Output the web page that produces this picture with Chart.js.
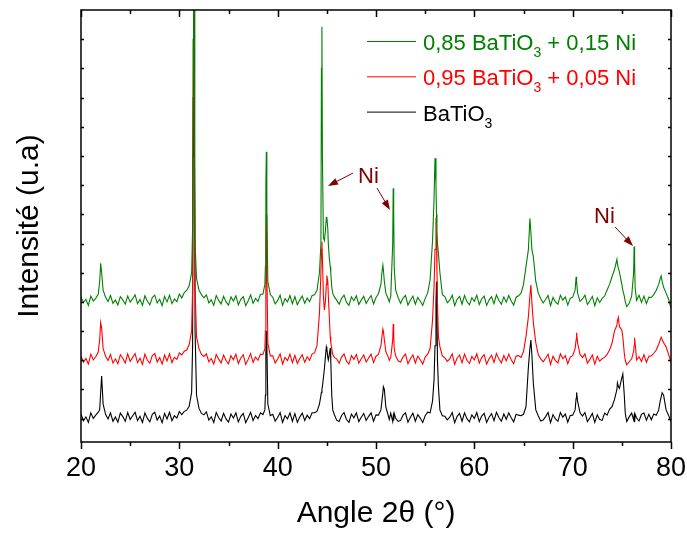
<!DOCTYPE html>
<html><head><meta charset="utf-8">
<script src="https://cdn.jsdelivr.net/npm/chart.js@4.4.1/dist/chart.umd.min.js"></script>
<style>html,body{margin:0;padding:0;background:#fff;}canvas{display:block;}</style>
</head><body>
<canvas id="c" width="687" height="534"></canvas>
<script>
// 2-theta positions (degrees), shared by the three patterns
const angles = [
 20,20.25,20.5,20.75,21,21.25,21.5,21.75,
 21.9,22,22.1,22.25,22.5,
 22.75,23,23.25,23.5,23.75,24,24.25,24.5,24.75,25,25.25,25.5,
 25.75,26,26.25,26.5,26.75,27,27.25,27.5,27.75,28,28.25,28.5,
 28.75,29,29.25,29.5,29.75,30,30.25,30.5,30.75,31,31.25,
 31.35,31.4,31.45,31.5,31.55,31.6,31.75,32,32.25,
 32.5,32.75,33,33.25,33.5,33.75,34,34.25,34.5,34.75,35,35.25,
 35.5,35.75,36,36.25,36.5,36.75,37,37.25,37.5,37.75,38,38.25,38.5,
 38.7,38.75,38.8,38.85,38.9,39,39.25,
 39.5,39.75,40,40.25,40.5,40.75,41,41.25,41.5,41.75,42,42.25,
 42.5,42.75,43,43.25,43.5,43.75,
 44,44.25,44.4,44.45,44.5,44.55,44.65,44.75,44.85,44.95,45,45.1,45.15,45.25,45.35,45.4,45.5,45.6,45.75,46,
 46.25,46.5,46.75,47,47.25,47.5,47.75,48,48.25,48.5,48.75,49,
 49.25,49.5,49.75,50,50.25,
 50.5,50.6,50.7,50.75,50.85,51,51.25,51.35,51.5,51.7,51.75,51.8,51.85,52,52.25,
 52.5,52.75,53,53.25,53.5,53.75,54,54.25,54.5,54.75,55,55.25,
 55.5,55.75,55.9,56,56.1,56.15,56.2,56.25,56.35,56.5,56.75,
 57,57.25,57.5,57.75,58,58.25,58.5,58.75,59,59.25,59.5,59.75,
 60,60.25,60.5,60.75,61,61.25,61.5,61.75,62,62.25,62.5,62.75,
 63,63.25,63.5,63.75,64,64.25,64.5,
 64.75,65,65.25,65.5,65.65,65.75,65.85,66,66.25,66.5,66.75,
 67,67.25,67.5,67.75,68,68.25,68.5,68.75,69,69.25,69.5,69.75,70,
 70.25,70.35,70.4,70.5,70.75,
 71,71.25,71.5,71.75,72,72.25,72.5,72.75,
 73,73.25,73.5,73.75,74,74.25,74.5,74.55,74.65,74.75,75,75.1,75.25,75.35,75.5,75.75,76,76.2,76.25,76.3,76.35,76.5,76.75,77,
 77.25,77.5,77.75,
 78,78.25,78.5,78.75,78.9,79,79.1,79.25,79.5,79.75,80
];

// 0,85 BaTiO3 + 0,15 Ni (green, offset pattern)
const intensity085 = [
 41.6,39.8,40.9,38.8,42.0,40.3,41.2,42.6,
 47,53.2,50,44,41.6,
 40.1,42.2,39.5,40.6,38.9,41.8,40.7,39.2,42.0,39.9,41.1,42.4,
 39.4,40.8,38.8,42.1,40.2,39.0,41.5,42.3,39.6,40.9,38.7,41.9,
 40.0,42.3,39.4,41.0,40.1,42.7,41.3,43.2,43.9,45.5,50.0,
 65,130,200,160,90,60,48,44,42.5,
 41.4,42.4,39.7,40.7,38.8,42.2,40.5,39.3,41.9,40.0,38.9,41.7,
 40.3,42.1,39.0,40.9,41.8,38.7,40.4,42.4,39.5,41.2,40.2,42.6,42.6,
 46,52,80,91.4,70,47,42.5,
 41.6,39.3,40.5,42.3,38.8,41.1,40.0,42.2,39.4,41.8,39.0,40.7,
 42.0,39.5,41.3,40.1,42.2,42.4,
 44,50,60,120,134.3,90,62,61,64,69,69.1,65,60,55,52,50,45,43,41.8,40.6,
 39.2,41.2,42.3,39.8,38.8,41.7,40.4,42.1,39.1,40.6,41.9,39.5,
 40.9,42.2,39.3,41.5,42.8,
 46,50,52.6,51,47,43,41,40,42,60,78.9,70,52,44,41.5,
 39.5,41.3,42.2,38.9,40.6,42.0,39.2,41.5,40.3,38.8,41.2,43.0,
 47.5,61,75,89.2,80,70,64,60,56.6,50,42.5,
 41.8,39.7,40.6,42.3,38.7,40.9,41.9,39.2,42.2,40.1,39.0,41.4,
 40.2,42.3,39.1,41.0,42.0,38.8,40.6,41.8,39.4,42.4,40.5,39.2,
 41.7,39.9,42.2,40.3,38.9,41.6,42.1,
 43,46,52,58,68.6,64,58,55.5,47,43,41.2,
 39.6,40.8,42.2,38.7,41.5,40.0,39.2,42.3,40.6,41.7,38.9,41.2,41.6,
 44,48.6,47,43,40.2,
 41.0,42.3,39.1,40.4,41.9,38.7,41.4,39.8,
 41.2,42.0,44.1,46,48.6,51,54.6,53,51.5,50.3,46,44,42,40,38.4,39.5,42,50,59,54,45,40.5,42.3,39.8,
 42.0,39.4,41.6,
 41.5,42.5,44,46,48,48.9,47,45,43,41,37.8
];

// 0,95 BaTiO3 + 0,05 Ni (red, offset pattern)
const intensity095 = [
 21.4,19.3,20.6,18.7,22.1,20.1,21.2,22.8,
 27,32.9,31,24,21.4,
 19.9,22.0,19.0,20.5,18.8,21.9,20.7,19.1,22.2,19.6,21.0,22.3,
 19.2,20.7,18.6,22.1,20.0,19.0,21.6,22.3,19.4,20.9,18.7,21.8,
 19.8,22.2,19.2,21.0,20.3,22.5,21.8,23.1,23.5,25.4,30.0,
 45,110,190,170,80,45,28,24,22,
 21.3,22.2,19.5,20.6,18.7,22.0,20.4,19.1,21.8,19.9,18.8,21.6,
 20.2,22.1,18.9,20.8,21.9,18.6,20.3,22.3,19.3,21.1,20.0,22.1,22.0,
 24,30,60,69.8,50,26,21.5,
 21.5,19.1,20.4,22.2,18.7,21.0,19.9,22.1,19.2,21.7,18.9,20.6,
 21.9,19.3,21.2,20.0,22.1,22.6,
 25,36,50,58,60.6,55,42,37.2,40,46,49,47,42,35,28,26,24,22,21,20.5,
 19.0,21.1,22.2,19.7,18.7,21.6,20.3,22.0,19.0,20.5,21.8,19.4,
 20.8,22.1,19.2,21.4,22.0,
 25,28,30.7,30,27,23,21,20,21,27,32.4,29,24,21.5,19.8,
 19.4,21.2,22.1,18.8,20.5,21.9,19.1,21.4,20.2,18.7,21.1,22.1,
 24,33.8,45,58,68.7,62,50,40,28,24.6,21.5,
 20.8,19.6,20.5,22.2,18.6,20.8,21.8,19.1,22.1,20.0,18.9,21.3,
 20.1,22.2,19.0,20.9,21.9,18.7,20.5,21.7,19.3,22.3,20.4,19.1,
 21.6,19.8,22.1,20.2,18.8,21.5,21.6,
 21,23,28,35,42,45.8,40,33,26,22,20.5,
 19.5,20.7,22.1,18.6,21.4,19.9,19.1,22.2,20.5,21.6,18.8,21.1,21.6,
 24,27,29.4,26,22,
 20.9,22.2,19.0,20.3,21.8,18.7,21.3,19.7,
 20.5,21,22,23.5,25.8,30,32,33.5,34.7,31.5,30.4,28,22.4,20,18.4,19.5,20.5,23,25,27.7,26,20.1,21.2,19.6,
 21.9,19.3,21.4,
 21.5,22.4,23.5,25.5,27,27.9,27,26,24.6,22,19.5
];

// BaTiO3 (black)
const intensityBaTiO3 = [
 1.5,-0.7,0.6,-1.3,2.0,0.1,1.2,2.2,
 3,9,14.6,5,1.5,
 -0.1,2.0,-0.9,0.6,-1.2,1.9,0.7,-0.9,2.1,-0.3,1.0,2.2,
 -0.7,0.8,-1.3,2.0,0.1,-1.1,1.5,2.2,-0.5,0.9,-1.4,1.8,
 -0.1,2.2,-0.7,1.0,0.2,2.4,1.4,2.5,2.9,4.2,9,
 25,90,180,170,90,30,8,3.5,1.8,
 1.3,2.3,-0.5,0.6,-1.3,2.1,0.4,-0.8,1.8,-0.1,-1.2,1.6,
 0.2,2.0,-1.1,0.8,1.8,-1.4,0.3,2.2,-0.6,1.1,0.0,2.0,1.4,
 3,8,22,30,26,5,1,
 1.5,-0.8,0.4,2.1,-1.3,1.0,-0.1,2.0,-0.9,1.7,-1.2,0.6,
 1.9,-0.6,1.2,0.0,2.0,2.0,
 2.5,5,8,9,10,11,14,17,21,24.6,24,21,20.1,22,24.2,20,8,3,1.5,-0.5,
 -1.0,1.1,2.1,-0.3,-1.3,1.6,0.3,2.0,-1.0,0.5,1.8,-0.6,
 0.8,2.0,-0.9,1.3,1.2,
 3,6,9,10.9,10,4,1,-0.3,1.9,-1.0,0.7,-0.6,1.8,0.1,-0.9,
 -0.6,1.2,2.0,-1.2,0.5,1.9,-0.9,1.4,0.2,-1.3,1.0,2.2,
 2,6,13.2,25,40,46.9,40,20,10.9,3,1,
 0.8,-0.4,0.5,2.1,-1.4,0.8,1.8,-0.9,2.0,0.0,-1.1,1.3,
 0.1,2.1,-1.0,0.9,1.8,-1.3,0.5,1.7,-0.7,2.2,0.4,-0.9,
 1.6,-0.2,2.0,0.3,-1.1,1.5,1.2,
 1.0,1.5,4,17.8,24,26.9,22,12.1,3,1,-0.8,
 -0.5,0.7,2.1,-1.4,1.4,-0.1,-0.9,2.1,0.5,1.6,-1.2,1.1,1.2,
 3,7,9,6,2,
 0.9,2.1,-1.0,0.3,1.8,-1.3,1.3,-0.3,
 -0.6,1.9,1.2,3.2,4.1,6.5,10,12.3,11,10.4,14,15.3,8,1.8,-1.0,0.6,1.9,-0.4,0.9,-1.2,1.5,0.2,-0.8,1.5,
 1.9,-0.5,1.5,
 -0.4,1.6,1.2,3,6,7.5,8.9,8,3,1.2,-1
];

const xTickLabels = [20,30,40,50,60,70,80];
const xMinorTicks = [25,35,45,55,65,75];
const yTickValues = [0,10,20,30,40,50,60,70,80,90,100,110,120,130];

// legend pieces: [text, isSubscript]
const legendGreen = [['0,85 BaTiO',0],['3',1],[' + 0,15 Ni',0]];
const legendRed = [['0,95 BaTiO',0],['3',1],[' + 0,05 Ni',0]];
const legendBlack = [['BaTiO',0],['3',1]];

// Ni annotations in data coordinates [angle, intensity]
const niLabels = [[48.17,80.7],[72.17,67.0]];
const niArrows = [[47.66,84.15,45.12,79.7],[50.1,79.0,51.42,71.5],[74.31,65.66,76.14,59.15]];

const GREEN='#008000', RED='#ff0000', BLACK='#000000', DARKRED='#800000';
const SANS="'Liberation Sans', Arial, sans-serif";

const toPts = arr => angles.map((a,i)=>({x:a,y:arr[i]}));
if (intensity085.length!==angles.length||intensity095.length!==angles.length||intensityBaTiO3.length!==angles.length)
  console.error('length mismatch', angles.length, intensity085.length, intensity095.length, intensityBaTiO3.length);

const framePlugin = {
  id:'frame',
  afterDatasetsDraw(chart){
    const {ctx, chartArea:{left,right,top,bottom}, scales:{x,y}} = chart;
    ctx.save();
    ctx.strokeStyle='#000'; ctx.lineWidth=1.5;
    ctx.strokeRect(left,top,right-left,bottom-top);
    ctx.beginPath();
    const xt = (v,L)=>{const p=Math.round(x.getPixelForValue(v))+0.5; ctx.moveTo(p,bottom); ctx.lineTo(p,bottom+L); ctx.moveTo(p,top); ctx.lineTo(p,top+L);};
    xTickLabels.forEach(v=>xt(v,7));
    xMinorTicks.forEach(v=>xt(v,4));
    yTickValues.forEach(v=>{const p=Math.round(y.getPixelForValue(v))+0.5; ctx.moveTo(left,p); ctx.lineTo(left+3,p); ctx.moveTo(right,p); ctx.lineTo(right-3,p);});
    ctx.stroke();
    ctx.restore();
  },
  afterDraw(chart){
    const {ctx, chartArea:{left,top}, scales:{x,y}} = chart;
    ctx.save();
    const rows=[[legendGreen,GREEN],[legendRed,RED],[legendBlack,BLACK]];
    rows.forEach((r,i)=>{
      const base = top+40+i*35.3;
      ctx.strokeStyle=r[1]; ctx.lineWidth=1;
      ctx.beginPath(); ctx.moveTo(left+286,base-8.5); ctx.lineTo(left+335,base-8.5); ctx.stroke();
      ctx.fillStyle=r[1]; ctx.textBaseline='alphabetic'; ctx.textAlign='left';
      let cx = left+342;
      r[0].forEach(([t,sub])=>{
        ctx.font = sub ? '14px '+SANS : '22px '+SANS;
        ctx.fillText(t,cx,sub?base+7:base);
        cx += ctx.measureText(t).width;
      });
    });
    ctx.fillStyle=DARKRED; ctx.strokeStyle=DARKRED; ctx.lineWidth=1;
    ctx.font='22px '+SANS;
    niLabels.forEach(([a,v])=>ctx.fillText('Ni',x.getPixelForValue(a),y.getPixelForValue(v)));
    niArrows.forEach(([a1,v1,a2,v2])=>{
      const x1=x.getPixelForValue(a1), y1=y.getPixelForValue(v1), x2=x.getPixelForValue(a2), y2=y.getPixelForValue(v2);
      const ang=Math.atan2(y2-y1,x2-x1), L=10, W=3.5;
      ctx.beginPath(); ctx.moveTo(x1,y1); ctx.lineTo(x2-6*Math.cos(ang),y2-6*Math.sin(ang)); ctx.stroke();
      ctx.beginPath(); ctx.moveTo(x2,y2);
      ctx.lineTo(x2-L*Math.cos(ang)+W*Math.sin(ang), y2-L*Math.sin(ang)-W*Math.cos(ang));
      ctx.lineTo(x2-L*Math.cos(ang)-W*Math.sin(ang), y2-L*Math.sin(ang)+W*Math.cos(ang));
      ctx.closePath(); ctx.fill();
    });
    ctx.restore();
  }
};

const ds = (label,arr,color)=>({label,data:toPts(arr),borderColor:color,backgroundColor:color,borderWidth:1.1,pointRadius:0,tension:0,fill:false,clip:0});

new Chart(document.getElementById('c'),{
  type:'line',
  data:{datasets:[
    ds('0,85 BaTiO3 + 0,15 Ni',intensity085,GREEN),
    ds('0,95 BaTiO3 + 0,05 Ni',intensity095,RED),
    ds('BaTiO3',intensityBaTiO3,BLACK)
  ]},
  options:{
    responsive:false, animation:false, devicePixelRatio:1,
    layout:{padding:{top:10,right:16,left:0,bottom:0}},
    plugins:{legend:{display:false},tooltip:{enabled:false}},
    scales:{
      x:{type:'linear',min:20,max:80,
         afterFit:s=>{s.height=92; s.paddingLeft=0; s.paddingRight=0;},
         afterBuildTicks:s=>{s.ticks=xTickLabels.map(v=>({value:v}));},
         grid:{display:false,drawTicks:false},border:{display:false},
         ticks:{color:'#000',font:{family:SANS,size:27},padding:10,maxRotation:0,autoSkip:false},
         title:{display:true,text:'Angle 2θ (°)',color:'#000',font:{family:SANS,size:30},padding:{top:0,bottom:2}}},
      y:{type:'linear',min:-8,max:140,
         afterFit:s=>{s.width=81; s.paddingTop=0; s.paddingBottom=0;},
         ticks:{display:false},grid:{display:false},border:{display:false},
         title:{display:true,text:'Intensité (u.a)',color:'#000',font:{family:SANS,size:30},padding:{top:12,bottom:0}}}
    }
  },
  plugins:[framePlugin]
});
</script>
</body></html>
